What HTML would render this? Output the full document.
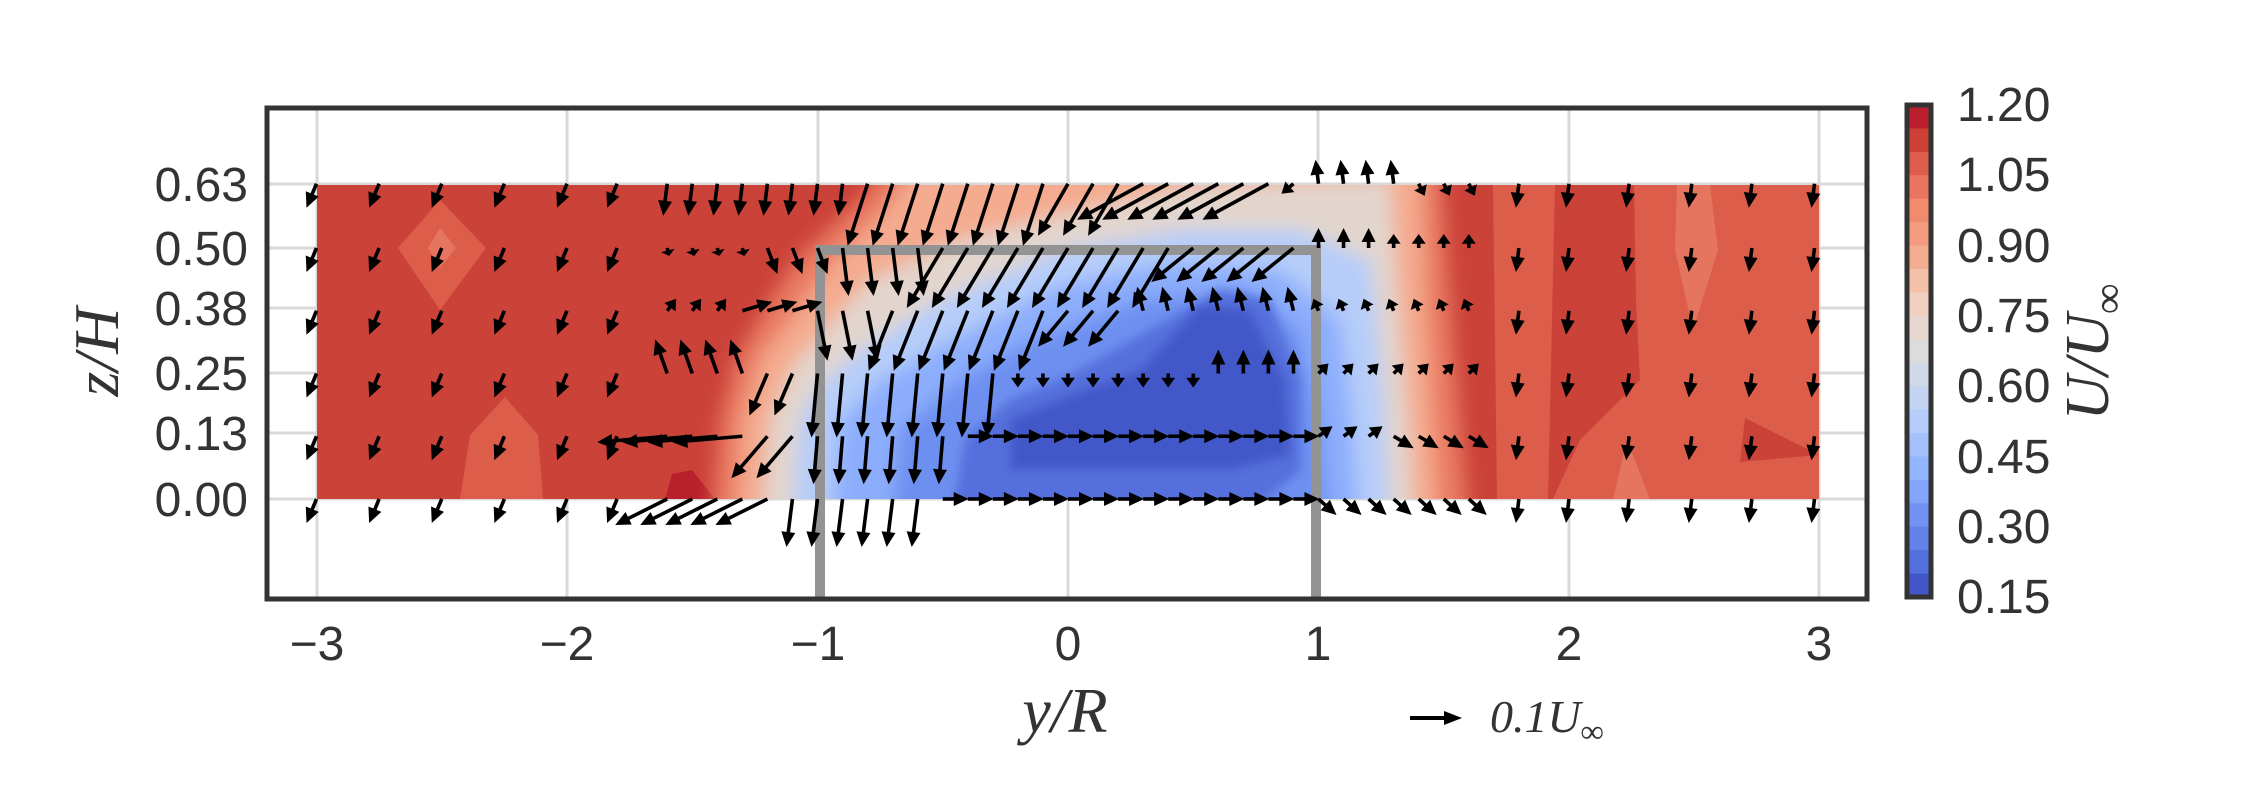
<!DOCTYPE html>
<html><head><meta charset="utf-8">
<style>
html,body{margin:0;padding:0;background:#fff;}
svg{display:block;}
.t{font-family:"Liberation Sans",Arial,sans-serif;font-size:48px;fill:#333;}
.m{font-family:"Liberation Serif","DejaVu Serif",serif;font-style:italic;fill:#333;}
</style></head>
<body>
<svg id="s" width="2250" height="788" viewBox="0 0 2250 788" xmlns="http://www.w3.org/2000/svg">
<defs>
<filter id="b" x="-20%" y="-20%" width="140%" height="140%"><feGaussianBlur stdDeviation="9"/></filter>
<filter id="b2" x="-20%" y="-20%" width="140%" height="140%"><feGaussianBlur stdDeviation="5"/></filter>
<clipPath id="dc"><rect x="317" y="185" width="1502" height="314"/></clipPath>
</defs>
<g stroke="#d9d9d9" stroke-width="3">
<line x1="317" y1="108" x2="317" y2="599"/><line x1="567" y1="108" x2="567" y2="599"/>
<line x1="818" y1="108" x2="818" y2="599"/><line x1="1068" y1="108" x2="1068" y2="599"/>
<line x1="1318" y1="108" x2="1318" y2="599"/><line x1="1569" y1="108" x2="1569" y2="599"/>
<line x1="1819" y1="108" x2="1819" y2="599"/>
<line x1="267" y1="184" x2="1867" y2="184"/><line x1="267" y1="248" x2="1867" y2="248"/>
<line x1="267" y1="308" x2="1867" y2="308"/><line x1="267" y1="373" x2="1867" y2="373"/>
<line x1="267" y1="433" x2="1867" y2="433"/><line x1="267" y1="499" x2="1867" y2="499"/>
</g>
<g clip-path="url(#dc)" id="field">
<rect x="317" y="185" width="1502" height="314" fill="#cb4239"/>
<polygon points="398,248 440,200 486,248 440,310" fill="#dc5e4a"/>
<polygon points="428,248 440,228 456,248 440,268" fill="#e5755f"/>
<polygon points="460,499 470,435 505,397 538,435 543,499" fill="#dc5e4a"/>
<polygon points="665,499 672,474 692,470 715,499" fill="#b8202b"/>
<polygon points="1493,185 1555,185 1548,499 1497,499" fill="#dc5e4a"/>
<polygon points="1634,185 1819,185 1819,499 1553,499 1580,440 1640,380 1636,300" fill="#dc5e4a"/>
<polygon points="1677,185 1710,185 1718,250 1693,330 1675,250" fill="#e5755f"/>
<polygon points="1613,499 1627,440 1650,499" fill="#e5755f"/>
<polygon points="1745,418 1819,455 1740,462" fill="#cb4239"/>
<g filter="url(#b)">
<polygon points="710,540 720,420 735,360 770,300 800,255 860,200 900,150 1440,150 1450,300 1460,420 1470,540" fill="#e97a62"/>
<polygon points="735,540 742,420 760,360 790,320 830,265 880,215 930,150 1420,150 1425,300 1432,420 1440,540" fill="#f4ab8f"/>
<polygon points="760,540 770,420 790,370 820,335 870,280 960,240 1080,210 1200,185 1390,180 1398,300 1408,420 1415,540" fill="#e2d5cd"/>
<polygon points="790,540 800,420 820,385 860,350 940,300 1060,250 1180,230 1300,230 1370,260 1378,330 1385,420 1390,540" fill="#b6cdf9"/>
<polygon points="830,540 840,420 880,380 950,340 1060,285 1170,262 1280,270 1340,320 1352,420 1360,540" fill="#8cadfc"/>
<polygon points="890,540 900,430 960,380 1030,340 1140,300 1240,290 1300,330 1320,420 1330,540" fill="#6d8ff0"/>
</g>
<g filter="url(#b2)">
<polygon points="950,530 965,440 1010,400 1070,375 1150,330 1220,290 1270,300 1300,380 1300,470 1230,530" fill="#5470dc"/>
<polygon points="1010,470 1010,420 1070,395 1140,370 1200,305 1250,310 1285,380 1290,455 1230,470 1130,470" fill="#4358c9"/>
</g>
</g>
<polyline points="820,599 820,250 1316,250 1316,599" fill="none" stroke="#939393" stroke-width="10"/>
<g id="arrows"></g>
<rect x="267" y="108" width="1600" height="491" fill="none" stroke="#333" stroke-width="5"/>
<g class="t" text-anchor="end">
<text x="248" y="201">0.63</text><text x="248" y="265">0.50</text><text x="248" y="325">0.38</text>
<text x="248" y="390">0.25</text><text x="248" y="450">0.13</text><text x="248" y="516">0.00</text>
</g>
<g class="t" text-anchor="middle">
<text x="317" y="660">−3</text><text x="567" y="660">−2</text><text x="818" y="660">−1</text>
<text x="1068" y="660">0</text><text x="1318" y="660">1</text><text x="1569" y="660">2</text><text x="1819" y="660">3</text>
</g>
<text class="m" x="1065" y="732" font-size="64" text-anchor="middle">y/R</text>
<text class="m" font-size="64" text-anchor="middle" transform="translate(118,352) rotate(-90)">z/H</text>
<line x1="1410" y1="718" x2="1446" y2="718" stroke="#000" stroke-width="4"/>
<polygon points="1462,718 1444,711 1444,725" fill="#000"/>
<text class="m" x="1490" y="732" font-size="46">0.1U<tspan font-size="32" dy="10">∞</tspan></text>
<g id="cb"></g>
<rect x="1907" y="105" width="24" height="492" fill="none" stroke="#333" stroke-width="5"/>
<g class="t">
<text x="1957" y="121">1.20</text><text x="1957" y="191">1.05</text><text x="1957" y="262">0.90</text>
<text x="1957" y="332">0.75</text><text x="1957" y="402">0.60</text><text x="1957" y="473">0.45</text>
<text x="1957" y="543">0.30</text><text x="1957" y="613">0.15</text>
</g>
<text class="m" font-size="62" text-anchor="middle" transform="translate(2108,352) rotate(-90)">U/U<tspan font-size="42" dy="14">∞</tspan></text>
</svg>
<script>
(function(){
var NS="http://www.w3.org/2000/svg";
var cols=["#bb1e2c","#cc4036","#dc5d4a","#e97560","#f08b6e","#f49c7f","#f5ad91","#f4c0a8","#efcfbf","#e6d7cf","#dcdcdc","#cfd9e8","#c2d4f2","#b5cdfa","#a4c1fe","#93b4fe","#82a6fb","#7293f2","#6282ea","#536fdc","#4356c9"];
var cb=document.getElementById("cb");var h=492/21;
for(var i=0;i<21;i++){var r=document.createElementNS(NS,"rect");r.setAttribute("x",1907);r.setAttribute("y",105+i*h);r.setAttribute("width",24);r.setAttribute("height",h+0.6);r.setAttribute("fill",cols[i]);cb.appendChild(r);}
function X(y){return 1068+250.5*y;}
function Y(z){return 499-502*z;}
var rows=[0,0.125,0.25,0.375,0.5,0.63];
var xs=[-3,-2.75,-2.5,-2.25,-2,-1.8];
for(var y=-1.6;y<=1.61;y+=0.1)xs.push(Math.round(y*100)/100);
xs=xs.concat([1.8,2.0,2.24,2.49,2.73,2.98]);
function vec(y,z){
 if(y<-1.7)return [-10,24];
 if(y>1.7)return [-3,24];
 if(z>0.6){
  if(y<-0.8)return [-4,32]; if(y<0)return [-20,62]; if(y<0.3)return [-30,52];
  if(y<0.85)return [-66,36]; if(y<0.95)return [-12,10]; if(y<1.35)return [-3,-24]; return [6,12];}
 if(z>0.45){
  if(y<-1.2)return [2,8]; if(y<-0.9)return [10,26]; if(y<-0.5)return [6,48];
  if(y<0.5)return [-36,60]; if(y<0.95)return [-42,34]; if(y<1.25)return [0,-20]; return [0,-14];}
 if(z>0.3){
  if(y<-1.3)return [9,-12]; if(y<-1.0)return [30,-9]; if(y<-0.7)return [10,50];
  if(y<0)return [-24,60]; if(y<0.3)return [-30,36]; if(y<0.95)return [-6,-24]; return [-5,-12];}
 if(z>0.2){
  if(y<-1.25)return [-12,-34]; if(y<-1.0)return [-18,42]; if(y<-0.2)return [-6,64];
  if(y<0.55)return [0,14]; if(y<1.0)return [0,-24]; return [10,-10];}
 if(z>0.1){
  if(y<-1.2)return [-70,6]; if(y<-1.0)return [-36,42]; if(y<-0.4)return [-4,48];
  if(y<1.0)return [26,0]; if(y<1.3)return [14,-10]; return [20,12];}
 if(y<-1.1)return [-52,26]; if(y<-0.55)return [-6,48]; if(y<1.0)return [26,0]; return [18,16];
}
var s="";
for(var r=0;r<rows.length;r++)for(var c=0;c<xs.length;c++){
 var y=xs[c],z=rows[r];var v=vec(y,z);
 var x0=X(y),y0=Y(z)+(z>0.6?1:0);var L=Math.sqrt(v[0]*v[0]+v[1]*v[1]);
 var ux=v[0]/L,uy=v[1]/L;var hl=Math.min(15,L*0.7),hw=7;
 var x1=x0+v[0],y1=y0+v[1];var bx=x1-ux*hl,by=y1-uy*hl;
 s+='<line x1="'+x0+'" y1="'+y0+'" x2="'+(bx+ux*2)+'" y2="'+(by+uy*2)+'" stroke="#000" stroke-width="3.6"/>';
 s+='<polygon points="'+x1+','+y1+' '+(bx-uy*hw)+','+(by+ux*hw)+' '+(bx+uy*hw)+','+(by-ux*hw)+'" fill="#000"/>';
}
document.getElementById("arrows").innerHTML=s;
})();
</script>
</body></html>
